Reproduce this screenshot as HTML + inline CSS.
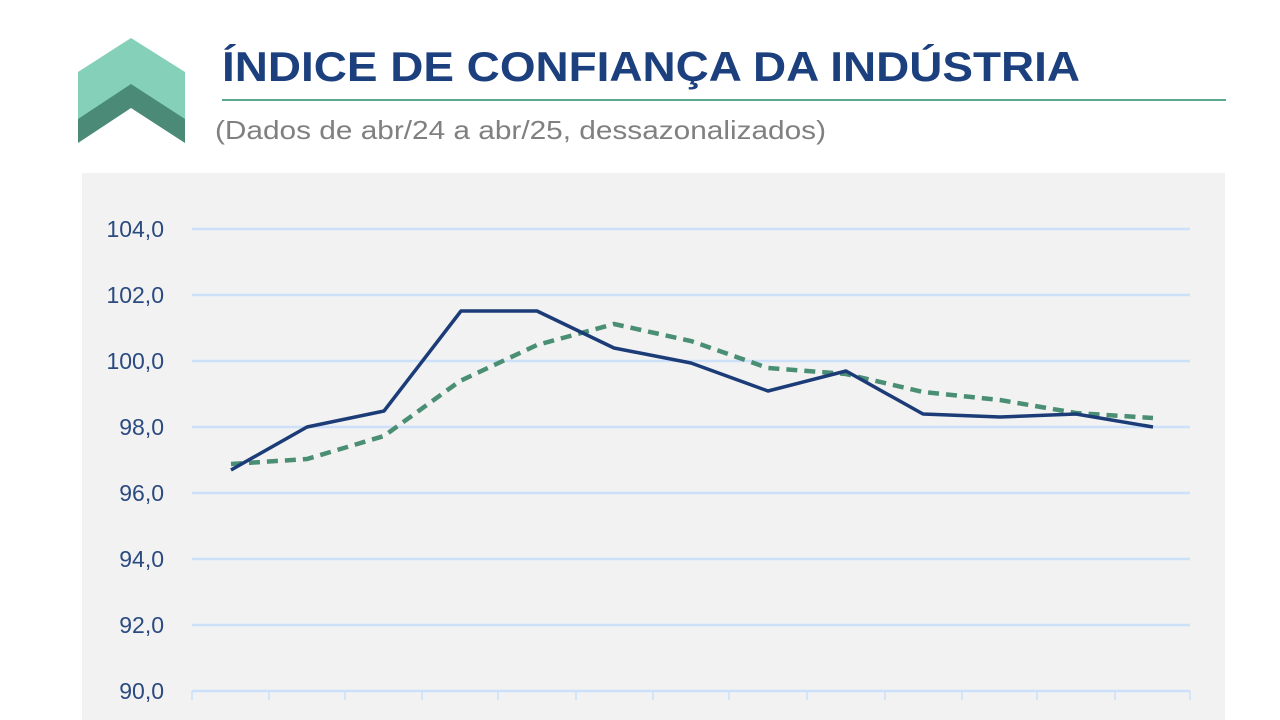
<!DOCTYPE html>
<html><head><meta charset="utf-8"><style>
body{margin:0;width:1280px;height:720px;background:#fff;overflow:hidden;font-family:"Liberation Sans",sans-serif}
</style></head><body>
<svg width="1280" height="720" xmlns="http://www.w3.org/2000/svg" style="position:absolute;left:0;top:0">
<polygon points="78,72 131,38 185,72 185,123 131,88 78,123" fill="#84d0b8"/>
<polygon points="78,119 131,84 185,119 185,143 131,108 78,143" fill="#4a8a76"/>
<text x="222" y="81" font-family="Liberation Sans, sans-serif" font-weight="bold" font-size="42" fill="#1c3f7e" textLength="858" lengthAdjust="spacingAndGlyphs">ÍNDICE DE CONFIANÇA DA INDÚSTRIA</text>
<line x1="222" y1="100" x2="1226" y2="100" stroke="#5aa88e" stroke-width="2"/>
<text x="215" y="139" font-family="Liberation Sans, sans-serif" font-size="26" fill="#808080" textLength="611" lengthAdjust="spacingAndGlyphs">(Dados de abr/24 a abr/25, dessazonalizados)</text>
<rect x="82" y="173" width="1143" height="547" fill="#f2f2f2"/>
<g stroke="#cce0fa" stroke-width="2.5">
<line x1="192" y1="229" x2="1190" y2="229"/><line x1="192" y1="295" x2="1190" y2="295"/>
<line x1="192" y1="361" x2="1190" y2="361"/><line x1="192" y1="427" x2="1190" y2="427"/>
<line x1="192" y1="493" x2="1190" y2="493"/><line x1="192" y1="559" x2="1190" y2="559"/>
<line x1="192" y1="625" x2="1190" y2="625"/><line x1="192" y1="691" x2="1190" y2="691"/>
</g>
<g stroke="#cce0fa" stroke-width="1.5">
<line x1="192" y1="691" x2="192" y2="700"/><line x1="269" y1="691" x2="269" y2="700"/><line x1="345" y1="691" x2="345" y2="700"/><line x1="422" y1="691" x2="422" y2="700"/><line x1="498" y1="691" x2="498" y2="700"/><line x1="576" y1="691" x2="576" y2="700"/><line x1="653" y1="691" x2="653" y2="700"/><line x1="729" y1="691" x2="729" y2="700"/><line x1="807" y1="691" x2="807" y2="700"/><line x1="885" y1="691" x2="885" y2="700"/><line x1="962" y1="691" x2="962" y2="700"/><line x1="1037" y1="691" x2="1037" y2="700"/><line x1="1115" y1="691" x2="1115" y2="700"/><line x1="1190" y1="691" x2="1190" y2="700"/>
</g>
<g font-family="Liberation Sans, sans-serif" font-size="23" fill="#2a4a80" text-anchor="end">
<text x="164" y="237">104,0</text><text x="164" y="303">102,0</text><text x="164" y="369">100,0</text><text x="164" y="435">98,0</text><text x="164" y="501">96,0</text><text x="164" y="567">94,0</text><text x="164" y="633">92,0</text><text x="164" y="699">90,0</text>
</g>
<polyline fill="none" stroke="#4a8f74" stroke-width="4.5" stroke-dasharray="11,7" points="231,464 307,459 384,436 460,381 537,345 614,324 691,341 768,368 846,374 923,392 1000,400 1076,413 1153,418"/>
<polyline fill="none" stroke="#1c3c78" stroke-width="3.5" stroke-linejoin="round" points="231,470 307,427 384,411 461,311 537,311 614,348 691,363 768,391 846,371 923,414 1000,417 1076,414 1153,427"/>
</svg>
</body></html>
